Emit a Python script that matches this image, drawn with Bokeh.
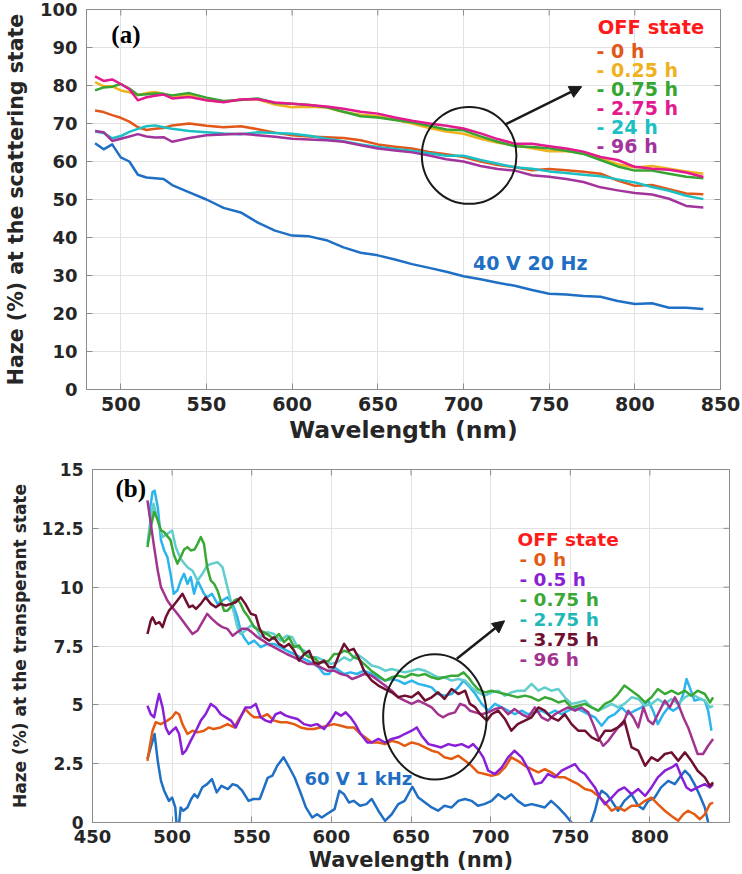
import math

from bokeh.plotting import figure
from bokeh.models import Range1d, FixedTicker, Label, Arrow, NormalHead
from bokeh.embed import file_html
from bokeh.resources import INLINE

# ---------------- panel (a): scattering state ----------------
wl_a = [485, 490, 495, 500, 505, 510, 515, 520, 525, 530, 540, 550, 560, 570,
        580, 590, 600, 610, 620, 630, 640, 650, 660, 670, 680, 690, 700, 710,
        720, 730, 740, 750, 760, 770, 780, 790, 800, 810, 820, 830, 840]

haze_a_40v = [64.8, 63.2, 64.5, 61.1, 60.0, 56.5, 55.8, 55.6, 55.4, 53.8, 51.9,
              50.0, 47.8, 46.6, 43.9, 41.8, 40.5, 40.3, 39.3, 37.4, 36.0, 35.3,
              34.2, 33.0, 32.0, 31.0, 29.8, 29.0, 28.1, 27.3, 26.2, 25.2, 25.0,
              24.6, 24.4, 23.3, 22.5, 22.7, 21.5, 21.5, 21.2]
haze_a_0h = [73.4, 73.0, 72.2, 71.5, 70.5, 69.0, 68.3, 68.6, 68.8, 69.5, 70.0,
             69.4, 69.0, 69.3, 68.5, 67.6, 66.9, 66.6, 66.4, 66.2, 65.6, 64.5,
             63.9, 63.4, 62.5, 61.9, 61.2, 60.0, 59.1, 58.5, 57.7, 58.0, 57.7,
             57.3, 56.8, 55.0, 53.6, 53.8, 52.7, 51.6, 51.4]
haze_a_025h = [80.9, 79.8, 79.8, 78.7, 78.2, 77.5, 78.0, 78.3, 77.8, 77.0, 77.5,
               76.1, 75.7, 76.3, 76.3, 75.0, 74.3, 74.4, 74.2, 73.0, 72.3, 72.0,
               71.0, 70.0, 68.8, 67.9, 67.3, 66.0, 64.9, 64.3, 63.5, 62.7, 62.7,
               62.3, 60.8, 59.3, 58.4, 58.8, 58.1, 57.4, 56.8]
haze_a_075h = [78.7, 79.5, 79.7, 80.4, 79.2, 77.5, 77.7, 77.9, 77.8, 77.4, 78.0,
               76.8, 75.9, 76.2, 76.6, 75.4, 75.2, 74.9, 74.3, 73.1, 71.9, 71.6,
               70.9, 70.3, 69.4, 68.4, 68.2, 66.6, 65.2, 64.0, 63.8, 63.5, 62.8,
               62.0, 60.4, 58.7, 57.6, 57.6, 56.8, 56.0, 55.6]
haze_a_275h = [82.4, 81.2, 81.6, 80.4, 79.0, 76.1, 76.9, 77.3, 77.6, 76.6, 77.0,
               76.1, 75.6, 76.3, 76.4, 75.5, 75.2, 74.9, 74.5, 73.9, 73.1, 72.6,
               71.6, 70.7, 70.0, 69.4, 68.7, 67.4, 65.9, 64.7, 64.7, 64.0, 63.4,
               62.6, 61.2, 60.4, 58.6, 58.1, 57.8, 57.1, 55.9]
haze_a_24h = [67.9, 67.5, 66.1, 66.7, 67.8, 68.6, 69.3, 69.5, 69.0, 68.6, 68.0,
              67.7, 67.4, 67.2, 67.7, 67.5, 67.3, 66.8, 66.0, 65.3, 64.5, 63.8,
              63.3, 62.8, 62.2, 61.5, 61.5, 60.4, 59.4, 58.5, 58.1, 57.4, 57.0,
              56.5, 56.1, 55.3, 54.5, 53.3, 52.3, 51.0, 50.1]
haze_a_96h = [68.0, 67.7, 65.4, 66.0, 66.6, 67.2, 66.6, 66.3, 66.4, 65.2, 66.2,
              66.9, 67.1, 67.3, 66.9, 66.5, 66.0, 65.8, 65.6, 65.2, 64.3, 63.4,
              62.9, 62.4, 61.6, 60.6, 60.0, 58.8, 58.0, 57.6, 56.4, 56.0, 55.4,
              54.6, 53.2, 52.4, 51.7, 51.3, 50.2, 48.3, 47.9]

series_a = [haze_a_0h, haze_a_24h, haze_a_96h, haze_a_025h, haze_a_075h,
            haze_a_275h]
colors_a = ["#e2571a", "#1cc0c4", "#a2349c", "#efb21f", "#36a532", "#e3198f"]
legend_a = ["- 0 h", "- 0.25 h", "- 0.75 h", "- 2.75 h", "- 24 h", "- 96 h"]
legend_a_colors = ["#e2571a", "#efb21f", "#36a532", "#e3198f", "#1cc0c4",
                   "#a2349c"]

x_ticks_a = [500, 550, 600, 650, 700, 750, 800, 850]
y_ticks_a = [0, 10, 20, 30, 40, 50, 60, 70, 80, 90, 100]

# ---------------- panel (b): transparent state ----------------
b_60v = [(484.5, 2.7), (489, 3.76), (491, 2.6), (493, 1.77), (495, 1.35),
         (498, 0.92), (500, 1.06), (502, 0.64), (503, -0.3), (504, -0.3),
         (505.4, 0.64), (507, 0.5), (509.6, 0.64), (512, 1.0), (514, 1.2),
         (516, 1.06), (519, 1.5), (522, 1.63), (525, 1.84), (528, 1.28),
         (531, 1.56), (535, 1.42), (538, 1.63), (541, 1.56), (544, 1.35),
         (548, 0.92), (551, 1.0), (555, 1.0), (557, 1.35), (560, 1.9),
         (563, 1.99), (566, 2.41), (570, 2.77), (573, 2.41), (577, 1.9),
         (581, 1.2), (584, 0.64), (588, 0.21), (591, 0.35), (594, 0.21),
         (597, 0.35), (602, 0.57), (605, 1.35), (608, 1.2), (611, 0.85),
         (614, 0.92), (618, 0.71), (622, 0.78), (625.3, 1.0), (629.5, 0.5),
         (633.7, 0.07), (637.9, 0.35), (642, 0.78), (646, 0.92), (650.8, 1.52),
         (654.6, 1.06), (658.8, 0.85), (663, 0.64), (667, 0.5), (671, 0.71),
         (675.5, 0.64), (679.7, 0.92), (683.9, 1.0), (688, 0.92), (692, 0.71),
         (696, 0.78), (700.6, 0.92), (704.8, 1.2), (709, 1.0), (713, 1.2),
         (717, 0.92), (721.5, 0.71), (725.7, 0.78), (730, 0.71), (734, 0.64),
         (738, 0.92), (742.5, 0.64), (746.6, 0.35), (750.8, 0.0), (755, -0.6),
         (760, -0.6), (765.5, 0.5), (767.6, 1.06), (769.7, 1.35), (772.8, 1.2),
         (776, 0.92), (780, 0.5), (784, 0.92), (788.5, 1.2), (792.7, 0.71),
         (795.8, 0.57), (799, 0.92), (803, 1.06), (807, 1.49), (811.5, 1.77),
         (815.7, 1.63), (818.8, 1.92), (822, 2.2), (825, 1.99), (828, 1.63),
         (831, 1.2), (834.5, 0.64), (836.6, 0.0), (840, -0.6)]

b_0h = [(484.5, 2.62), (485.5, 3.05), (487.7, 3.9), (489.7, 4.26), (492.9, 4.18),
        (497, 4.33), (500, 4.47), (502.3, 4.68), (504.4, 4.6), (506.5, 4.18),
        (509.6, 3.76), (512.8, 3.9), (516, 3.83), (520, 3.9), (523, 4.04),
        (526, 3.97), (530.5, 4.04), (534.7, 4.18), (539, 4.04), (542, 4.4),
        (546, 4.82), (549, 4.6), (551.5, 4.47), (555.6, 4.47), (559.8, 4.6),
        (564, 4.33), (568, 4.26), (572, 4.26), (576.6, 4.18), (580.7, 4.04),
        (585, 3.97), (589, 3.97), (593, 4.04), (597.5, 4.11), (601.7, 4.18),
        (606, 4.11), (610, 4.04), (614, 4.04), (618.4, 3.76), (622.6, 3.55),
        (625.3, 3.4), (629.5, 3.4), (633.7, 3.33), (637.9, 3.47), (642, 3.4),
        (646, 3.26), (650.4, 3.4), (654.6, 3.33), (658.8, 3.19), (663, 3.05),
        (667, 2.98), (671, 2.77), (675.5, 2.7), (679.7, 2.84), (684, 2.62),
        (688, 2.41), (692, 2.13), (696.4, 2.06), (700.6, 1.99), (704.8, 2.06),
        (709, 2.34), (713, 2.77), (717, 2.62), (721.5, 2.41), (725.7, 2.27),
        (730, 2.13), (734, 2.27), (738, 2.13), (742.5, 1.92), (746.6, 1.92),
        (750.8, 1.77), (755, 1.63), (759.2, 1.42), (763.4, 1.35), (767.6, 1.13),
        (771.8, 0.85), (776, 0.5), (780, 0.64), (784, 0.5), (788.5, 0.71),
        (792.7, 0.71), (797, 0.92), (801, 1.06), (805, 0.78), (809.4, 0.5),
        (813.6, 0.28), (817.8, 0.07), (821, 0.35), (824, 0.5), (828, 0.35),
        (831.4, 0.14), (834.5, 0.35), (837.7, 0.78), (839.7, 0.85)]

b_05h = [(484.5, 4.96), (486.6, 4.6), (488.7, 4.47), (490.4, 5.04), (491.8, 5.46),
         (494, 4.89), (496, 4.04), (498, 3.76), (500, 3.9), (502.3, 4.04),
         (504.4, 3.76), (506.5, 2.91), (508.6, 3.05), (511.7, 3.48), (515, 3.9),
         (518, 4.33), (521, 4.6), (524.3, 5.04), (527.4, 4.89), (530.5, 4.6),
         (533.7, 4.47), (537, 4.33), (540, 4.04), (543, 4.47), (546, 4.89),
         (549.4, 4.89), (552.5, 5.04), (555.6, 4.47), (558.8, 4.33), (562, 4.26),
         (565, 4.6), (568, 4.68), (571.3, 4.54), (574.5, 4.47), (578.7, 4.4),
         (582.8, 4.18), (587, 4.11), (591, 4.18), (595.4, 3.97), (599.6, 4.33),
         (602.7, 4.68), (606, 4.54), (609, 4.68), (612, 4.47), (615, 4.18),
         (618.4, 3.76), (622.6, 3.4), (625.3, 3.4), (629.5, 3.55), (633.7, 3.4),
         (637.9, 3.55), (642, 3.62), (646, 3.76), (650.4, 3.9), (653.6, 4.04),
         (656.7, 3.69), (661, 3.33), (665, 3.26), (669, 3.19), (673.4, 3.33),
         (677.6, 3.26), (681.8, 3.33), (686, 3.19), (689, 3.33), (692, 3.12),
         (695.4, 2.77), (698.5, 2.2), (702.7, 2.06), (707, 2.34), (711, 2.77),
         (715, 3.05), (719.5, 2.77), (723.6, 2.27), (727.8, 1.63), (732, 1.7),
         (736, 2.06), (740.4, 1.92), (744.6, 2.2), (748.7, 2.34), (753, 2.48),
         (756, 2.2), (759.2, 2.06), (762.3, 1.77), (765.5, 1.49), (768.7, 1.06),
         (771.8, 0.78), (776, 1.06), (780, 1.35), (784, 1.49), (788.5, 1.2),
         (792.7, 1.42), (797, 1.13), (801, 1.49), (805, 1.92), (809.4, 2.2),
         (813.6, 2.34), (816.7, 2.48), (820, 1.92), (823, 1.49), (826, 1.35),
         (830, 1.49), (834.5, 1.63), (837.7, 1.49), (839.7, 1.63)]

b_075h = [(484.5, 11.7), (486.6, 12.55), (488.7, 13.2), (491, 12.84),
          (493, 12.41), (495, 12.34), (499, 12.0), (501, 11.4), (503.3, 11.0),
          (505.4, 11.28), (507.5, 11.6), (509.6, 11.7), (511.7, 11.56),
          (514, 11.6), (516, 11.84), (518, 12.13), (520, 11.84), (522, 10.85),
          (524.3, 10.28), (526.4, 10.14), (528.5, 9.86), (530.5, 9.43),
          (532.6, 9.0), (534.7, 9.0), (536.8, 9.15), (539, 9.43), (541, 9.5),
          (543, 9.29), (545, 9.0), (548, 8.72), (551.5, 8.3), (554.6, 8.16),
          (557.7, 8.09), (561, 7.94), (564, 7.8), (567, 8.01), (570.3, 7.66),
          (573.4, 7.87), (576.6, 7.45), (579.7, 7.52), (583, 7.16), (586, 7.02),
          (589, 7.02), (592, 6.81), (595.4, 6.81), (598.5, 6.88), (601.7, 7.16),
          (604.8, 7.16), (608, 7.3), (611, 7.23), (614, 7.02), (617, 6.95),
          (620.5, 6.74), (625, 6.45), (629.5, 6.24), (633.7, 6.03),
          (637.9, 6.17), (642, 6.24), (646, 6.17), (650.4, 6.31), (654.6, 6.24),
          (658.8, 6.31), (663, 6.17), (667, 6.1), (671, 6.17), (675.5, 6.24),
          (679.7, 6.24), (683, 6.38), (686, 6.17), (689, 5.89), (692, 5.67),
          (696.4, 5.53), (700.6, 5.6), (704.8, 5.53), (709, 5.46), (713, 5.39),
          (717, 5.32), (721.5, 5.39), (725.7, 5.32), (730, 5.18), (734, 5.32),
          (738, 5.25), (742.5, 5.1), (746.6, 5.18), (750.8, 4.89), (755, 4.96),
          (759.2, 5.04), (763.4, 4.89), (767.6, 4.75), (771.8, 5.04),
          (776, 5.18), (780, 5.46), (784, 5.82), (788.5, 5.6), (792.7, 5.39),
          (797, 5.1), (801, 5.32), (805, 5.67), (809.4, 5.46), (813.6, 5.6),
          (817.8, 5.46), (822, 5.6), (826, 5.39), (830, 5.6), (834.5, 5.46),
          (837.7, 5.1), (839.7, 5.32)]

b_275h = [(484.5, 11.84), (486.6, 12.98), (488.3, 13.55), (491, 12.84),
          (494, 12.13), (497, 12.27), (500, 12.41), (502.3, 11.7),
          (505.4, 11.2), (509.6, 10.85), (512.8, 10.7), (516, 10.28),
          (519, 10.57), (522, 10.92), (525, 11.0), (528.5, 11.06),
          (531.6, 10.85), (534.7, 10.0), (536.8, 9.43), (539, 8.87), (541, 8.3),
          (543, 8.01), (546, 8.16), (549.4, 8.37), (552.5, 8.3), (555.6, 7.87),
          (559.8, 8.09), (564, 8.01), (568, 7.73), (572, 7.94), (575.5, 7.87),
          (578.7, 7.45), (583, 7.3), (587, 7.02), (591, 7.02), (595.4, 6.88),
          (599.6, 6.74), (603.8, 6.81), (608, 7.02), (612, 6.88), (616, 7.16),
          (620.5, 6.95), (625.3, 6.67), (629.5, 6.6), (633.7, 6.45),
          (637.9, 6.52), (642, 6.45), (646, 6.38), (650.4, 6.45), (654.6, 6.52),
          (658.8, 6.45), (663, 6.31), (667, 6.17), (671, 6.17), (675.5, 6.03),
          (679.7, 6.1), (684, 6.03), (688, 5.74), (692, 5.53), (696.4, 5.39),
          (700.6, 5.53), (704.8, 5.6), (709, 5.39), (713, 5.53), (717, 5.6),
          (721.5, 5.6), (725.7, 5.89), (730, 5.6), (734, 5.74), (738, 5.6),
          (742.5, 5.67), (746.6, 5.32), (750.8, 5.04), (755, 5.1), (759.2, 5.18),
          (763.4, 4.89), (767.6, 4.75), (771.8, 4.89), (776, 5.04), (780, 4.89),
          (784, 5.04), (788.5, 5.32), (792.7, 5.25), (797, 4.96), (801, 5.04),
          (805, 5.25), (809.4, 5.04), (813.6, 5.25), (817.8, 5.04), (822, 5.32),
          (826, 5.46), (830, 5.32), (834.5, 5.18), (837.7, 4.89), (839.7, 4.96)]

b_sky = [(485.5, 13.05), (487.7, 14.04), (489, 14.1), (491, 13.4), (493, 12.0),
         (495, 11.56), (497, 11.28), (499, 10.57), (501, 9.72), (503.3, 9.86),
         (505.4, 10.28), (507.5, 10.57), (509.6, 10.14), (511.7, 10.43),
         (513.8, 9.72), (516, 10.28), (518, 10.0), (520, 9.72), (522, 9.57),
         (525, 9.72), (528.5, 9.29), (531.6, 9.43), (534.7, 9.57), (538, 9.29),
         (541, 8.72), (543, 8.16), (545, 7.87), (548, 7.59), (551.5, 7.73),
         (555.6, 7.45), (559.8, 7.59), (564, 7.59), (568, 7.45), (572, 7.3),
         (576.6, 7.16), (580.7, 7.02), (585, 6.88), (589, 6.74), (592, 6.6),
         (595.4, 6.31), (598.5, 6.31), (601.7, 6.6), (605, 6.45), (608, 6.31),
         (612, 6.38), (616, 6.31), (620.5, 6.45), (625.3, 6.31), (629.5, 6.17),
         (633.7, 6.03), (637.9, 6.1), (642, 6.03), (646, 5.89), (650.4, 6.03),
         (654.6, 5.89), (658.8, 5.82), (663, 5.74), (667, 5.46), (671, 5.39),
         (675.5, 5.46), (679.7, 5.74), (683, 6.03), (686, 5.82), (690.4, 5.46),
         (694.4, 5.04), (698.5, 4.75), (702.7, 5.04), (707, 4.89), (711, 4.75),
         (715.3, 4.6), (719.5, 4.75), (723.6, 4.6), (727.8, 4.68), (732, 4.75),
         (736, 4.6), (740.4, 4.75), (744.6, 4.6), (748.7, 4.75), (753, 4.89),
         (757, 4.75), (761.3, 4.6), (765.5, 4.47), (769.7, 4.11), (774, 4.47),
         (778, 4.6), (782.2, 4.89), (786.4, 4.6), (790.6, 4.75), (794.8, 4.89),
         (799, 5.18), (802, 4.75), (805, 4.18), (808.4, 4.6), (811.5, 4.89),
         (814.6, 4.75), (817.8, 4.89), (821, 5.46), (823, 6.1), (825, 5.74),
         (828, 5.18), (831.4, 5.25), (834.5, 5.18), (836.6, 4.75), (838.7, 3.9)]

b_375h = [(484.5, 8.01), (486.6, 8.58), (487.7, 8.72), (489.7, 8.44), (492, 8.51),
          (494, 8.3), (496, 8.72), (498, 9.0), (500, 9.15), (503.3, 9.43),
          (506.5, 9.72), (508.6, 9.43), (510.7, 9.15), (512.8, 9.22), (515, 9.08),
          (518, 9.29), (521, 9.57), (524.3, 9.29), (527.4, 9.15), (530.5, 9.29),
          (533.7, 9.22), (536.8, 9.29), (540, 9.36), (543, 9.57), (546, 9.29),
          (549.4, 8.87), (552.5, 8.8), (554.6, 8.3), (557.7, 7.87), (561, 7.73),
          (564, 7.87), (567, 7.59), (570.3, 7.45), (573.4, 7.59), (576.6, 7.3),
          (579.7, 6.88), (583, 7.16), (586, 7.3), (589, 6.81), (592, 6.74),
          (595.4, 6.88), (598.5, 6.6), (601.7, 6.6), (605, 7.16), (608, 7.59),
          (611, 7.3), (614, 7.38), (617, 7.02), (620.5, 6.45), (625.3, 6.03),
          (629.5, 5.82), (633.7, 5.67), (637.9, 5.53), (642, 5.32), (646, 5.39),
          (650.4, 5.32), (654.6, 5.53), (658.8, 5.18), (663, 5.32), (667, 5.53),
          (671, 5.25), (675.5, 5.67), (679.7, 5.46), (684, 5.6), (687, 5.04),
          (690.4, 4.89), (693.5, 4.6), (697.7, 4.33), (700.6, 4.6), (704.8, 4.75),
          (709, 4.4), (713, 3.9), (717, 4.18), (721.5, 4.33), (725.7, 4.47),
          (730, 4.89), (734, 4.75), (738, 4.47), (742.5, 4.33), (746.6, 4.6),
          (750.8, 4.18), (755, 3.9), (759.2, 3.9), (763.4, 3.62), (767.6, 3.48),
          (771.8, 3.9), (776, 3.9), (780, 4.04), (784, 4.33), (788.5, 3.19),
          (792.7, 3.05), (797, 2.41), (801, 2.77), (805, 2.62), (809.4, 2.91),
          (813.6, 2.98), (817.8, 2.62), (822, 2.98), (826, 2.62), (830, 2.2),
          (834.5, 1.92), (837.7, 1.56), (839.7, 1.7)]

b_96h = [(484.5, 13.69), (486.6, 12.7), (488.7, 11.7), (491, 10.7), (493, 10.0),
         (495, 9.72), (497, 9.43), (500, 9.15), (503.3, 8.87), (506.5, 8.58),
         (509.6, 8.3), (512.8, 8.01), (516, 8.16), (519, 8.51), (522, 8.87),
         (525, 8.65), (528.5, 8.44), (531.6, 8.3), (534.7, 8.23), (538, 7.94),
         (541, 8.09), (544, 8.23), (547, 8.23), (550, 8.09), (553.6, 7.87),
         (557, 7.73), (560, 7.59), (564, 7.45), (568, 7.3), (572, 7.16),
         (576.6, 7.02), (580.7, 6.88), (585, 6.74), (589, 6.74), (593, 6.6),
         (597.5, 6.45), (601.7, 6.45), (606, 6.31), (610, 6.24), (613, 6.1),
         (616, 6.17), (620.5, 6.31), (625.3, 6.24), (629.5, 6.03), (633.7, 5.82),
         (637.9, 5.6), (642, 5.32), (646, 5.18), (650.4, 5.04), (654.6, 5.18),
         (658.8, 5.04), (663, 4.89), (667, 4.6), (670, 4.47), (673.4, 4.6),
         (677.6, 4.68), (680.8, 5.04), (684, 4.96), (687, 4.75), (690.4, 4.68),
         (694.4, 4.6), (698.5, 4.68), (702.7, 4.82), (707, 4.89), (711, 4.6),
         (715, 4.82), (719.5, 4.6), (723.6, 4.47), (727.8, 4.89), (732, 4.47),
         (736, 4.33), (740.4, 4.6), (744.6, 4.75), (748.7, 4.89), (753, 4.75),
         (757, 4.89), (761.3, 4.68), (764.4, 4.18), (767.6, 3.62), (770.7, 3.26),
         (774, 3.48), (777, 3.76), (780, 4.04), (783, 4.18), (786.4, 4.75),
         (789.5, 4.47), (792.7, 4.04), (796, 4.89), (799, 4.33), (802, 4.18),
         (805, 4.6), (809.4, 5.18), (812.5, 4.89), (815.7, 5.32), (817.8, 5.04),
         (821, 4.47), (824, 4.04), (827, 3.48), (830, 2.91), (833.4, 2.91),
         (836.6, 3.26), (839.7, 3.55)]

series_b = [b_0h, b_05h, b_sky, b_275h, b_075h, b_96h, b_375h]
colors_b = ["#e35a10", "#8a1fd8", "#2bb5ec", "#62cdcd", "#3aa836", "#a2338f",
            "#6e1030"]
legend_b = ["- 0 h", "- 0.5 h", "- 0.75 h", "- 2.75 h", "- 3.75 h", "- 96 h"]
legend_b_colors = ["#e35a10", "#8a1fd8", "#3aa836", "#22b8b8", "#6e1030",
                   "#a2338f"]

x_ticks_b = [450, 500, 550, 600, 650, 700, 750, 800]
y_ticks_b = [0, 2.5, 5, 7.5, 10, 12.5, 15]
y_tick_labels_b = ["0", "2.5", "5", "7.5", "10", "12.5", "15"]

FONT = "DejaVu Sans"
AXIS_GRAY = "#8c8c8c"
TEXT_DARK = "#262626"
BLUE = "#1f6fc4"


def style_axes(p, xticks, yticks, xsize, ysize, xlab_size, ylab_size,
               xlabel, ylabel, xmax, ymax):
    p.xaxis.ticker = FixedTicker(ticks=xticks)
    p.yaxis.ticker = FixedTicker(ticks=yticks)
    p.xgrid.ticker = FixedTicker(ticks=xticks)
    p.ygrid.ticker = FixedTicker(ticks=yticks)
    p.grid.grid_line_color = "#e2e2e2"
    p.grid.grid_line_width = 1
    p.xaxis.axis_label = xlabel
    p.yaxis.axis_label = ylabel
    for ax, size, lsize in ((p.xaxis, xsize, xlab_size),
                            (p.yaxis, ysize, ylab_size)):
        ax.major_label_text_font = FONT
        ax.major_label_text_font_style = "bold"
        ax.major_label_text_font_size = size
        ax.major_label_text_color = TEXT_DARK
        ax.axis_label_text_font = FONT
        ax.axis_label_text_font_style = "bold"
        ax.axis_label_text_font_size = lsize
        ax.axis_label_text_color = TEXT_DARK
        ax.axis_line_color = AXIS_GRAY
        ax.major_tick_line_color = AXIS_GRAY
        ax.major_tick_in = 6
        ax.major_tick_out = 0
        ax.minor_tick_line_color = None
    p.xaxis.major_label_standoff = 7
    p.xaxis.axis_label_standoff = 2
    p.yaxis.major_label_standoff = 9
    p.yaxis.axis_label_standoff = 9
    # inward ticks on the top and right edges of the box
    p.scatter(xticks, [ymax] * len(xticks), marker="dash", size=12,
              angle=math.pi / 2, line_color=AXIS_GRAY, line_width=1)
    p.scatter([xmax] * len(yticks), yticks, marker="dash", size=12,
              line_color=AXIS_GRAY, line_width=1)
    p.outline_line_color = AXIS_GRAY
    p.background_fill_color = "white"
    p.border_fill_color = "white"


def add_text(p, x, y, txt, color, size, font=FONT):
    p.add_layout(Label(x=x, y=y, text=txt, text_color=color, text_font=font,
                       text_font_style="bold", text_font_size=size,
                       text_baseline="middle", text_align="left"))


# ---------- figure (a) ----------
pa = figure(width=742, height=447, x_range=Range1d(480, 850),
            y_range=Range1d(0, 100), output_backend="svg",
            toolbar_location=None, min_border_left=81, min_border_right=22,
            min_border_top=9, min_border_bottom=58)
style_axes(pa, x_ticks_a, y_ticks_a, "19px", "18px", "23.5px", "20.5px",
           "Wavelength (nm)", "Haze (%) at the scattering state", 850, 100)

pa.line(wl_a, haze_a_40v, line_color=BLUE, line_width=2.5,
        line_join="round")
for vals, col in zip(series_a, colors_a):
    pa.line(wl_a, vals, line_color=col, line_width=2.5, line_join="round")

pa.ellipse(x=[703.3], y=[61.6], width=55.2, height=25.5, fill_color=None,
           line_color="#1a1a1a", line_width=2)
pa.add_layout(Arrow(end=NormalHead(size=12, fill_color="#1a1a1a",
                                   line_color="#1a1a1a"),
                    x_start=724.2, y_start=69.7, x_end=769.0, y_end=79.7,
                    line_color="#1a1a1a", line_width=2.5))

add_text(pa, 494.5, 93.4, "(a)", "black", "25px", font="Liberation Serif")
add_text(pa, 778.3, 95.3, "OFF state", "#ff1a1a", "19.5px")
for i, (txt, col) in enumerate(zip(legend_a, legend_a_colors)):
    add_text(pa, 777.7, 89.2 - 5.0 * i, txt, col, "19px")
add_text(pa, 705.6, 33.4, "40 V 20 Hz", BLUE, "19px")

# ---------- figure (b) ----------
pb = figure(width=742, height=427, x_range=Range1d(450, 850),
            y_range=Range1d(0, 15), output_backend="svg",
            toolbar_location=None, min_border_left=92, min_border_right=13,
            min_border_top=22, min_border_bottom=52)
style_axes(pb, x_ticks_b, y_ticks_b, "18px", "17px", "21px", "17px",
           "Wavelength (nm)", "Haze (%) at the transperant state", 850, 15)
pb.yaxis[0].major_label_overrides = {t: s for t, s in
                                     zip(y_ticks_b, y_tick_labels_b)}

wl60, h60 = zip(*b_60v)
pb.line(list(wl60), list(h60), line_color=BLUE, line_width=2.5,
        line_join="round")
for pairs, col in zip(series_b, colors_b):
    xs, ys = zip(*pairs)
    pb.line(list(xs), list(ys), line_color=col, line_width=2.5,
            line_join="round")

pb.ellipse(x=[665.0], y=[4.49], width=65.0, height=5.32, fill_color=None,
           line_color="#1a1a1a", line_width=2)
pb.add_layout(Arrow(end=NormalHead(size=12, fill_color="#1a1a1a",
                                   line_color="#1a1a1a"),
                    x_start=678.75, y_start=6.96, x_end=708.75, y_end=8.57,
                    line_color="#1a1a1a", line_width=2.5))

add_text(pb, 464.4, 14.19, "(b)", "black", "25px", font="Liberation Serif")
add_text(pb, 716.9, 12.02, "OFF state", "#ff1a1a", "18.5px")
for i, (txt, col) in enumerate(zip(legend_b, legend_b_colors)):
    add_text(pb, 718.1, 11.17 - 0.85 * i, txt, col, "18.5px")
add_text(pb, 583.1, 1.89, "60 V 1 kHz", BLUE, "18px")

# the two panels are separate roots, stacked one above the other
open("out.html", "w").write(file_html([pa, pb], INLINE))
